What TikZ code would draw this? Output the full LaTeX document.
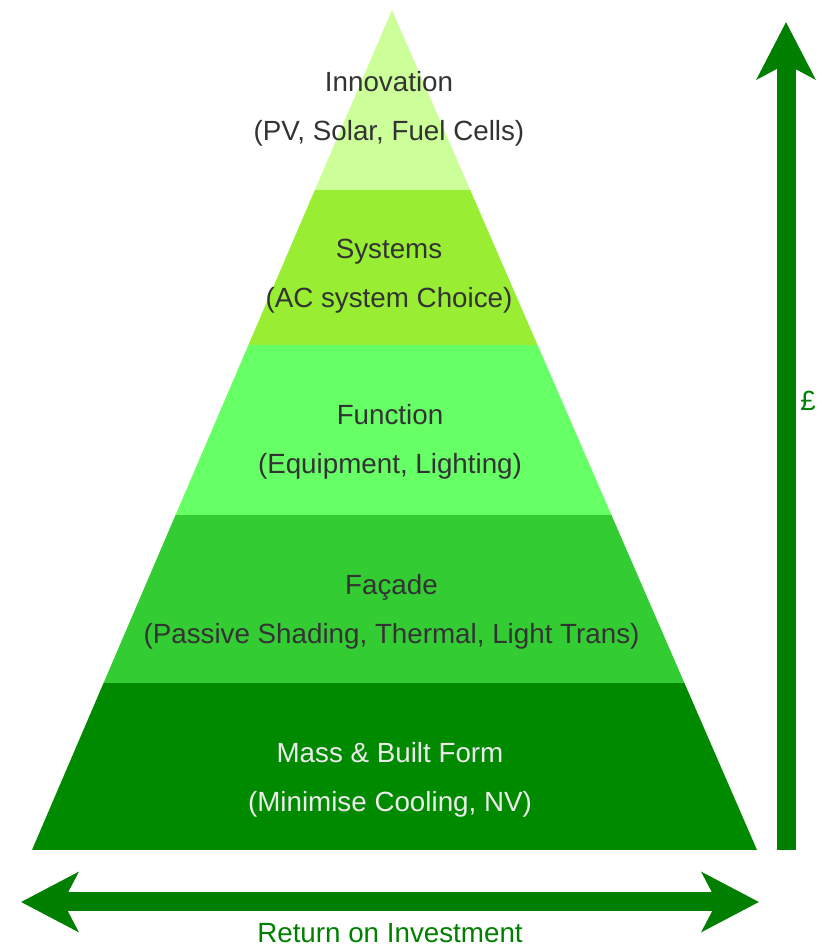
\documentclass[tikz,border=0pt]{standalone}
\usepackage{fontspec}
\setmainfont{Liberation Sans}
\usetikzlibrary{arrows.meta}

\definecolor{innovfill}{HTML}{CCFF99}
\definecolor{sysfill}{HTML}{99EE33}
\definecolor{funcfill}{HTML}{66FF66}
\definecolor{facadefill}{HTML}{33CC33}
\definecolor{massfill}{HTML}{008A00}
\definecolor{arrowgreen}{HTML}{007F00}
\definecolor{textgrey}{HTML}{333333}

\begin{document}
\begin{tikzpicture}[
  layer/.style={align=center, text=textgrey, font=\fontsize{15.8}{27.9}\selectfont},
  bigarrow/.style={line width=0.38cm, arrowgreen}]

\useasboundingbox (0,0) rectangle (16.34,18.94);

% Pyramid corners
\coordinate (apex) at (7.84,18.74);
\coordinate (baseL) at (0.64,1.94);
\coordinate (baseR) at (15.14,1.94);

% Bands
\begin{scope}
  \clip (apex) -- (baseR) -- (baseL) -- cycle;
  \fill[innovfill] (0,15.14) rectangle (16,18.94);
  \fill[sysfill] (0,12.04) rectangle (16,15.14);
  \fill[funcfill] (0,8.64) rectangle (16,12.04);
  \fill[facadefill] (0,5.28) rectangle (16,8.64);
  \fill[massfill] (0,1.94) rectangle (16,5.28);
\end{scope}

% Labels
\node[layer] (innov) at (7.78,16.76) {Innovation\\(PV, Solar, Fuel Cells)};
\node[layer] (sys) at (7.78,13.41) {Systems\\(AC system Choice)};
\node[layer] (func) at (7.8,10.10) {Function\\(Equipment, Lighting)};
\node[layer] (facade) at (7.83,6.70) {Façade\\(Passive Shading, Thermal, Light Trans)};
\node[layer, text=white!92!black] (mass) at (7.8,3.34) {Mass \& Built Form\\(Minimise Cooling, NV)};

% Cost arrow
\coordinate (costlo) at (15.72,1.94);
\coordinate (costhi) at (15.72,18.5);
\draw[bigarrow, -{Stealth[length=1.14cm, width=1.16cm, inset=0.3cm]}] (costlo) -- (costhi);
\node[anchor=west, inner sep=0pt, text=arrowgreen, font=\fontsize{15.8}{18}\selectfont] (cost) at (16.0,10.92) {£};

% Return arrow
\coordinate (roiL) at (0.42,0.9);
\coordinate (roiR) at (15.18,0.9);
\draw[bigarrow, {Stealth[length=1.14cm, width=1.18cm, inset=0.3cm]}-{Stealth[length=1.14cm, width=1.18cm, inset=0.3cm]}] (roiL) -- (roiR);
\node[text=arrowgreen, font=\fontsize{15.8}{18}\selectfont] (roi) at (7.8,0.28) {Return on Investment};

\end{tikzpicture}
\end{document}
